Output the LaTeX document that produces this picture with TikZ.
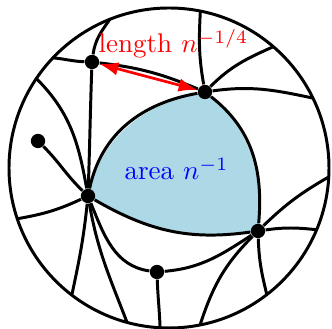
\documentclass[tikz,border=0pt]{standalone}
\usepackage{amsmath}
\usetikzlibrary{arrows.meta, backgrounds}
\definecolor{regionColor}{RGB}{173,216,230}
\tikzstyle{vertex} = [circle, fill=black, inner sep=0pt, minimum size=5.3pt]
\tikzstyle{edge} = [line width=1.1pt, black]
\tikzstyle{arrow} = [line width=1pt, red, {Latex[length=7pt,width=5pt]}-{Latex[length=7pt,width=5pt]}]

\begin{document}
\begin{tikzpicture}[x=1pt, y=1pt, scale=0.37]
    \useasboundingbox (-169,-161) rectangle (163,168);

    % Outer disk and the points where edges leave it
    \coordinate (o) at (0,0);
    \draw[edge] (o) circle (160);
    \foreach \name/\ang in {b1/111.7, b2/136.5, b3/146, b4/198.5, b5/232.6, b6/254.8, b7/266.8,
                            b8/281.2, b9/307.7, b10/337.3, b11/356.8, b12/25.9, b13/49.3, b14/78.7}
        \coordinate (\name) at (\ang:160);

    % Vertices
    \node (nw) [vertex] at (-77,106) {};
    \node (ne) [vertex] at (36,76) {};
    \node (leaf) [vertex] at (-131,27) {};
    \node (west) [vertex] at (-81,-28) {};
    \node (east) [vertex] at (89,-63) {};
    \node (south) [vertex] at (-12,-104) {};

    % Shaded face
    \begin{pgfonlayer}{background}
        \fill[regionColor] (west.center) to[out=78,in=190] (ne.center) to[out=-38,in=85] (east.center)
            to[out=188,in=-30] (west.center) -- cycle;
    \end{pgfonlayer}
    \draw[edge] (west) to[out=78,in=190] (ne);
    \draw[edge] (ne) to[out=-38,in=85] (east);
    \draw[edge] (east) to[out=188,in=-30] (west);

    % Upper left
    \draw[edge] (nw) to[bend left=8] (ne);
    \draw[edge] (nw) to[out=82,in=235] (b1);
    \draw[edge] (nw) to[out=178,in=-5] (b2);
    \draw[edge] (nw) to[out=-92,in=88] (west);
    \draw[edge] (b3) to[out=-45,in=100] (west);
    \draw[edge] (leaf) to[out=-45,in=136] (west);

    % Lower left
    \draw[edge] (west) to[out=205,in=10] (b4);
    \draw[edge] (west) to[out=-96,in=78] (b5);
    \draw[edge] (west) to[out=-80,in=111] (b6);
    \draw[edge] (west) to[out=-68,in=172] (south);
    \draw[edge] (south) to[out=-88,in=92] (b7);
    \draw[edge] (south) to[out=5,in=213] (east);

    % Right
    \draw[edge] (east) to[out=225,in=72] (b8);
    \draw[edge] (east) to[out=-88,in=104] (b9);
    \draw[edge] (east) to[out=8,in=174] (b10);
    \draw[edge] (east) to[out=44,in=210] (b11);
    \draw[edge] (ne) to[out=8,in=168] (b12);
    \draw[edge] (ne) to[out=45,in=204] (b13);
    \draw[edge] (ne) to[out=100,in=-93] (b14);

    % Labels
    \draw[arrow] (nw) -- (ne);
    \node (len_lbl) [text=red, anchor=base] at (4.5,115) {length $n^{-1/4}$};
    \node (area_lbl) [text=blue, anchor=base] at (7.5,-12) {area $n^{-1}$};
\end{tikzpicture}
\end{document}
